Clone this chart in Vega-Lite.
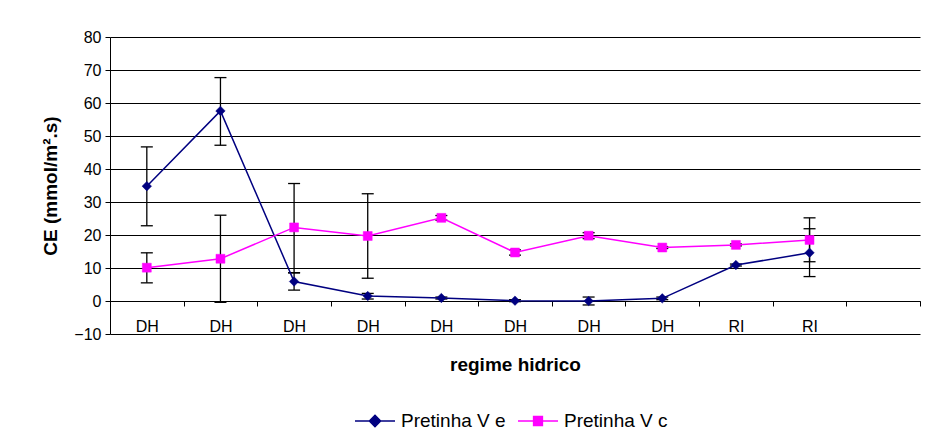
{
  "$schema": "https://vega.github.io/schema/vega-lite/v6.json",
  "width": 810,
  "height": 297,
  "autosize": {"type": "none"},
  "padding": {"left": 110, "top": 37, "right": 12, "bottom": 101},
  "background": "white",
  "config": {
    "view": {"stroke": null},
    "font": "Liberation Sans",
    "axis": {
      "labelFont": "Liberation Sans",
      "titleFont": "Liberation Sans",
      "labelColor": "#000",
      "titleColor": "#000",
      "domainColor": "#000",
      "tickColor": "#000",
      "gridColor": "#000",
      "gridOpacity": 1,
      "labelFontSize": 16,
      "titleFontSize": 19,
      "titleFontWeight": "bold"
    },
    "axisY": {"grid": true, "tickCount": 9, "tickSize": 5, "labelPadding": 4, "titlePadding": 13}
  },
  "data": {
    "values": [
      {"idx": 1, "series": "Pretinha V e", "value": 34.8, "lo": 22.8, "hi": 46.7},
      {"idx": 2, "series": "Pretinha V e", "value": 57.6, "lo": 47.2, "hi": 67.7},
      {"idx": 3, "series": "Pretinha V e", "value": 5.9, "lo": 3.3, "hi": 8.5},
      {"idx": 4, "series": "Pretinha V e", "value": 1.5, "lo": 0.6, "hi": 2.3},
      {"idx": 5, "series": "Pretinha V e", "value": 0.9, "lo": 0.6, "hi": 1.2},
      {"idx": 6, "series": "Pretinha V e", "value": 0.1, "lo": -0.2, "hi": 0.4},
      {"idx": 7, "series": "Pretinha V e", "value": 0.0, "lo": -1.2, "hi": 1.2},
      {"idx": 8, "series": "Pretinha V e", "value": 0.8, "lo": 0.4, "hi": 1.2},
      {"idx": 9, "series": "Pretinha V e", "value": 10.9, "lo": 10.6, "hi": 11.2},
      {"idx": 10, "series": "Pretinha V e", "value": 14.6, "lo": 7.4, "hi": 21.9},
      {"idx": 1, "series": "Pretinha V c", "value": 10.1, "lo": 5.5, "hi": 14.6},
      {"idx": 2, "series": "Pretinha V c", "value": 12.8, "lo": -0.4, "hi": 26.0},
      {"idx": 3, "series": "Pretinha V c", "value": 22.3, "lo": 8.6, "hi": 35.6},
      {"idx": 4, "series": "Pretinha V c", "value": 19.7, "lo": 6.9, "hi": 32.5},
      {"idx": 5, "series": "Pretinha V c", "value": 25.2, "lo": 24.5, "hi": 25.9},
      {"idx": 6, "series": "Pretinha V c", "value": 14.7, "lo": 13.9, "hi": 15.5},
      {"idx": 7, "series": "Pretinha V c", "value": 19.8, "lo": 18.9, "hi": 20.7},
      {"idx": 8, "series": "Pretinha V c", "value": 16.2, "lo": 15.9, "hi": 16.5},
      {"idx": 9, "series": "Pretinha V c", "value": 17.0, "lo": 16.7, "hi": 17.3},
      {"idx": 10, "series": "Pretinha V c", "value": 18.5, "lo": 11.9, "hi": 25.2}
    ]
  },
  "encoding": {
    "x": {
      "field": "idx",
      "type": "quantitative",
      "scale": {"domain": [0.5, 11.5], "nice": false, "zero": false},
      "axis": {
        "values": [0.5, 1.5, 2.5, 3.5, 4.5, 5.5, 6.5, 7.5, 8.5, 9.5, 10.5, 11.5],
        "labelExpr": "datum.value < 8 ? 'DH' : (datum.value < 10 ? 'RI' : '')",
        "labelOffset": 36.8,
        "labelOverlap": false,
        "labelFlush": false,
        "labelBound": false,
        "tickSize": 5,
        "offset": -33,
        "grid": false,
        "labelPadding": 12,
        "title": "regime hidrico",
        "titlePadding": 21
      }
    }
  },
  "layer": [
    {
      "mark": {"type": "rule", "color": "#000", "strokeWidth": 1.3},
      "encoding": {
        "y": {"field": "lo", "type": "quantitative", "title": "CE (mmol/m².s)", "scale": {"domain": [-10, 80], "nice": false, "zero": false}},
        "y2": {"field": "hi"}
      }
    },
    {
      "mark": {"type": "point", "shape": "M-1,0L1,0", "size": 144, "filled": false, "stroke": "#000", "strokeWidth": 1.3, "opacity": 1},
      "encoding": {
        "y": {"field": "lo", "type": "quantitative", "title": "CE (mmol/m².s)", "scale": {"domain": [-10, 80], "nice": false, "zero": false}}
      }
    },
    {
      "mark": {"type": "point", "shape": "M-1,0L1,0", "size": 144, "filled": false, "stroke": "#000", "strokeWidth": 1.3, "opacity": 1},
      "encoding": {
        "y": {"field": "hi", "type": "quantitative", "title": "CE (mmol/m².s)", "scale": {"domain": [-10, 80], "nice": false, "zero": false}}
      }
    },
    {
      "mark": {"type": "line", "strokeWidth": 1.5},
      "encoding": {
        "y": {"field": "value", "type": "quantitative", "title": "CE (mmol/m².s)", "scale": {"domain": [-10, 80], "nice": false, "zero": false}},
        "color": {
          "field": "series",
          "type": "nominal",
          "scale": {"domain": ["Pretinha V e", "Pretinha V c"], "range": ["#000080", "#FF00FF"]},
          "legend": {
            "orient": "none",
            "legendX": 244,
            "legendY": 363,
            "direction": "horizontal",
            "columns": 2,
            "title": null,
            "padding": 0,
            "symbolType": "M-1,0L1,0",
            "symbolSize": 1600,
            "symbolStrokeWidth": 1.5,
            "labelFont": "Liberation Sans",
            "labelFontSize": 19,
            "labelColor": "#000",
            "labelOffset": 5,
            "columnPadding": 9,
            "encode": {
              "symbols": {
                "update": {
                  "shape": {"signal": "datum.value === 'Pretinha V e' ? 'M-1,0L1,0M0,-0.28L0.28,0L0,0.28L-0.28,0Z' : 'M-1,0L1,0M-0.22,-0.22L0.22,-0.22L0.22,0.22L-0.22,0.22Z'"},
                  "fill": {"signal": "datum.value === 'Pretinha V e' ? '#000080' : '#FF00FF'"},
                  "stroke": {"signal": "datum.value === 'Pretinha V e' ? '#000080' : '#FF00FF'"},
                  "strokeWidth": {"value": 1.5},
                  "opacity": {"value": 1},
                  "fillOpacity": {"value": 1}
                }
              }
            }
          }
        }
      }
    },
    {
      "transform": [{"filter": "datum.series === 'Pretinha V e'"}],
      "mark": {"type": "point", "shape": "diamond", "filled": true, "size": 90, "fill": "#000080", "stroke": "#000080", "strokeWidth": 0.5, "opacity": 1},
      "encoding": {
        "y": {"field": "value", "type": "quantitative", "title": "CE (mmol/m².s)", "scale": {"domain": [-10, 80], "nice": false, "zero": false}}
      }
    },
    {
      "transform": [{"filter": "datum.series === 'Pretinha V c'"}],
      "mark": {"type": "point", "shape": "square", "filled": true, "size": 80, "fill": "#FF00FF", "stroke": "#FF00FF", "strokeWidth": 0.5, "opacity": 1},
      "encoding": {
        "y": {"field": "value", "type": "quantitative", "title": "CE (mmol/m².s)", "scale": {"domain": [-10, 80], "nice": false, "zero": false}}
      }
    }
  ]
}
